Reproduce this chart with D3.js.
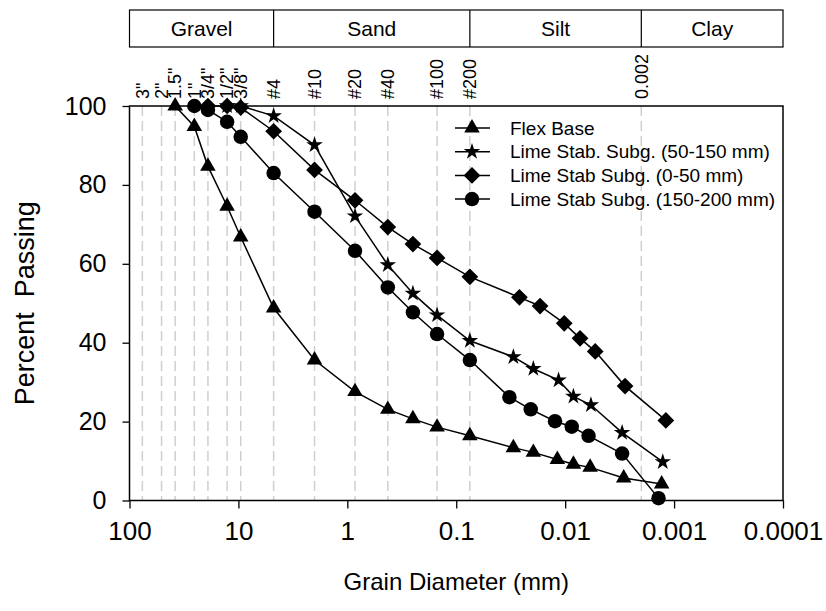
<!DOCTYPE html>
<html>
<head>
<meta charset="utf-8">
<script src="https://cdn.jsdelivr.net/npm/d3@7"></script>
<style>
  body { margin: 0; background: #fff; }
  svg text { font-family: Arial, "Liberation Sans", sans-serif; fill: #000; }
</style>
</head>
<body>
<div id="chart"></div>
<script>
// sieve sizes (mm) and their labels shown above the plot
const sieveLabels = ['3"', '2"', '1.5"', '1"', '3/4"', '1/2"', '3/8"', '#4', '#10', '#20', '#40', '#100', '#200', '0.002'];
const sieveSizes = [76.2, 50.8, 38.1, 25.4, 19.05, 12.7, 9.525, 4.75, 2.0, 0.85, 0.425, 0.15, 0.075, 0.002];

// soil classification bands
const bandNames = ['Gravel', 'Sand', 'Silt', 'Clay'];
const bandEdges = [100, 4.75, 0.075, 0.002, 0.0001];

// axis ticks
const xTicks = [100, 10, 1, 0.1, 0.01, 0.001, 0.0001];
const xTickLabels = ['100', '10', '1', '0.1', '0.01', '0.001', '0.0001'];
const yTicks = [0, 20, 40, 60, 80, 100];

// series
const flexDiam = [38.1, 25.4, 19.05, 12.7, 9.525, 4.75, 2.0, 0.85, 0.425, 0.25, 0.15, 0.075, 0.0299, 0.0196, 0.0118, 0.0084, 0.0059, 0.0029, 0.0013];
const flexPass = [100, 94.8, 84.7, 74.6, 66.8, 48.8, 35.6, 27.6, 23.1, 20.7, 18.6, 16.4, 13.4, 12.2, 10.4, 9.2, 8.4, 5.7, 4.2];

const lime50Diam = [12.7, 9.525, 4.75, 2.0, 0.85, 0.425, 0.25, 0.15, 0.075, 0.0299, 0.0196, 0.0115, 0.0084, 0.0058, 0.0030, 0.00127];
const lime50Pass = [100, 100, 97.5, 90.1, 72.1, 59.7, 52.5, 47.0, 40.5, 36.4, 33.4, 30.5, 26.4, 24.2, 17.2, 9.8];

const lime0Diam = [19.05, 12.7, 9.525, 4.75, 2.0, 0.85, 0.425, 0.25, 0.15, 0.075, 0.0263, 0.0170, 0.0102, 0.0073, 0.0053, 0.00282, 0.00119];
const lime0Pass = [100, 100, 99.6, 93.6, 83.8, 76.1, 69.3, 65.0, 61.5, 56.7, 51.5, 49.3, 44.9, 41.1, 37.8, 29.0, 20.3];

const lime150Diam = [25.4, 19.05, 12.7, 9.525, 4.75, 2.0, 0.85, 0.425, 0.25, 0.15, 0.075, 0.0325, 0.0207, 0.0124, 0.0087, 0.0061, 0.0030, 0.00139];
const lime150Pass = [100, 99.0, 96.0, 92.2, 83.0, 73.2, 63.3, 54.0, 47.7, 42.2, 35.6, 26.2, 23.1, 20.1, 18.7, 16.4, 11.9, 0.6];

const seriesNames = ['Flex Base', 'Lime Stab. Subg. (50-150 mm)', 'Lime Stab Subg. (0-50 mm)', 'Lime Stab Subg. (150-200 mm)'];

const W = 826, H = 611;
const plotLeft = 129.5, plotRight = 783, plotTop = 106, plotBottom = 500.5;

const svg = d3.select('#chart').append('svg')
    .attr('width', W)
    .attr('height', H);

const x = d3.scaleLog().domain([100, 0.0001]).range([plotLeft, plotRight]);
const y = d3.scaleLinear().domain([0, 100]).range([plotBottom, plotTop]);

//dashed sieve lines
svg.append('g')
    .selectAll('line')
    .data(sieveSizes)
    .join('line')
    .attr('x1', d => x(d)).attr('x2', d => x(d))
    .attr('y1', plotTop).attr('y2', plotBottom)
    .attr('stroke', '#cfcfcf')
    .attr('stroke-width', 1.5)
    .attr('stroke-dasharray', '10,5');

//sieve labels (rotated)
svg.append('g')
    .selectAll('text')
    .data(sieveLabels)
    .join('text')
    .attr('transform', (d, i) => `translate(${x(sieveSizes[i])},99) rotate(-90)`)
    .attr('dy', '0.35em')
    .attr('font-size', 18)
    .text(d => d);

//classification band on top
const band = svg.append('g');
band.append('rect')
    .attr('x', x(bandEdges[0])).attr('y', 10)
    .attr('width', x(bandEdges[4]) - x(bandEdges[0])).attr('height', 37)
    .attr('fill', 'none').attr('stroke', '#000').attr('stroke-width', 1.2);
band.selectAll('line')
    .data(bandEdges.slice(1, 4))
    .join('line')
    .attr('x1', d => x(d)).attr('x2', d => x(d))
    .attr('y1', 10).attr('y2', 47)
    .attr('stroke', '#000').attr('stroke-width', 1.2);
band.selectAll('text')
    .data(bandNames)
    .join('text')
    .attr('x', (d, i) => (x(bandEdges[i]) + x(bandEdges[i + 1])) / 2)
    .attr('y', 28.5)
    .attr('dy', '0.35em')
    .attr('text-anchor', 'middle')
    .attr('font-size', 21)
    .text(d => d);

//axes
const xAxis = d3.axisBottom(x).tickValues(xTicks).tickSize(8).tickPadding(13)
    .tickFormat((d, i) => xTickLabels[i]);
const yAxis = d3.axisLeft(y).tickValues(yTicks).tickSize(7).tickPadding(16);

const xAxisG = svg.append('g').attr('transform', `translate(0,${plotBottom})`).call(xAxis);
const yAxisG = svg.append('g').attr('transform', `translate(${plotLeft},0)`).call(yAxis);
[xAxisG, yAxisG].forEach(g => {
    g.select('.domain').remove();
    g.selectAll('line').attr('stroke', '#000').attr('stroke-width', 1.3);
    g.selectAll('text').attr('font-family', 'Arial, "Liberation Sans", sans-serif').attr('fill', '#000');
});
xAxisG.selectAll('text').attr('font-size', 26);
yAxisG.selectAll('text').attr('font-size', 25);

//frame
svg.append('rect')
    .attr('x', plotLeft).attr('y', plotTop)
    .attr('width', plotRight - plotLeft).attr('height', plotBottom - plotTop)
    .attr('fill', 'none').attr('stroke', '#000').attr('stroke-width', 1.5);

//axis titles
svg.append('text')
    .attr('x', (plotLeft + plotRight) / 2).attr('y', 590)
    .attr('text-anchor', 'middle')
    .attr('font-size', 24)
    .text('Grain Diameter (mm)');

svg.append('text')
    .attr('transform', `translate(34,${(plotTop + plotBottom) / 2}) rotate(-90)`)
    .attr('text-anchor', 'middle')
    .attr('font-size', 27)
    .style('white-space', 'pre')
    .text('Percent  Passing');

//symbols
const symTriangle = d3.symbol().type(d3.symbolTriangle).size(105);
const symStar = d3.symbol().type(d3.symbolStar).size(85);
const symDiamond = d3.symbol().type(d3.symbolSquare).size(140);
const symCircle = d3.symbol().type(d3.symbolCircle).size(165);

const series = [
    {name: seriesNames[0], diam: flexDiam, pass: flexPass, sym: symTriangle, rot: 0},
    {name: seriesNames[1], diam: lime50Diam, pass: lime50Pass, sym: symStar, rot: 0},
    {name: seriesNames[2], diam: lime0Diam, pass: lime0Pass, sym: symDiamond, rot: 45},
    {name: seriesNames[3], diam: lime150Diam, pass: lime150Pass, sym: symCircle, rot: 0}
];

const line = d3.line()
    .x(d => x(d[0]))
    .y(d => y(d[1]));

series.forEach(s => {
    const pts = s.diam.map((d, i) => [d, s.pass[i]]);
    svg.append('path')
        .datum(pts)
        .attr('fill', 'none')
        .attr('stroke', '#000')
        .attr('stroke-width', 1.5)
        .attr('d', line);
    svg.append('g')
        .selectAll('path')
        .data(pts)
        .join('path')
        .attr('d', s.sym())
        .attr('fill', '#000')
        .attr('transform', d => `translate(${x(d[0])},${y(d[1])}) rotate(${s.rot})`);
});

//legend
const legend = svg.append('g');
series.forEach((s, i) => {
    const ly = 128 + i * 23.7;
    legend.append('line')
        .attr('x1', 455).attr('x2', 490)
        .attr('y1', ly).attr('y2', ly)
        .attr('stroke', '#000').attr('stroke-width', 1.5);
    legend.append('path')
        .attr('d', s.sym())
        .attr('fill', '#000')
        .attr('transform', `translate(472,${ly}) rotate(${s.rot})`);
    legend.append('text')
        .attr('x', 510).attr('y', ly)
        .attr('dy', '0.35em')
        .attr('font-size', 19)
        .text(s.name);
});
</script>
</body>
</html>
